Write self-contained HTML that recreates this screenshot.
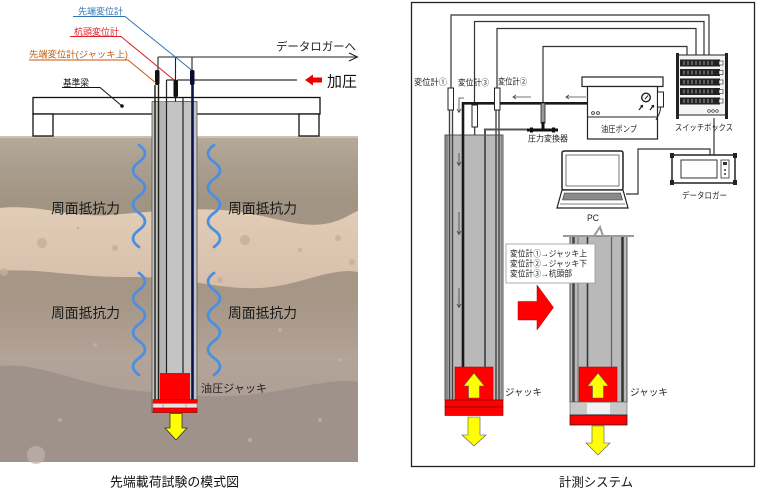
<!DOCTYPE html>
<html><head><meta charset="utf-8">
<style>
html,body{margin:0;padding:0;background:#fff;}
svg{display:block;}
text{font-family:"Liberation Sans","Noto Sans CJK JP",sans-serif;}
</style></head>
<body>
<svg width="760" height="496" viewBox="0 0 760 496" xmlns="http://www.w3.org/2000/svg">
<defs>
<linearGradient id="soil" x1="0" y1="0" x2="0" y2="1">
<stop offset="0" stop-color="#b6ab9b"/>
<stop offset="0.08" stop-color="#ab9f8f"/>
<stop offset="0.2" stop-color="#a29483"/>
<stop offset="0.5" stop-color="#a69686"/>
<stop offset="0.68" stop-color="#b3a398"/>
<stop offset="1" stop-color="#a89b93"/>
</linearGradient>
<linearGradient id="beige" x1="0" y1="0" x2="0" y2="1">
<stop offset="0" stop-color="#e2cdb7"/>
<stop offset="1" stop-color="#d6beab"/>
</linearGradient>
</defs>
<rect width="760" height="496" fill="#fff"/>

<!-- ============ LEFT DIAGRAM ============ -->
<!-- soil -->
<rect x="0" y="136" width="358" height="326" fill="url(#soil)"/>
<rect x="0" y="136" width="358" height="2" fill="#cbc2b2"/>
<path d="M0,208 C40,204 70,218 110,215 C150,212 200,206 240,212 C280,218 300,229 330,223 C345,219 352,213 358,211 L358,272 C330,267 300,286 260,288 C220,290 180,276 130,277 C80,278 40,268 0,271 Z" fill="url(#beige)"/>
<path d="M0,366 C40,362 80,385 130,390 C180,395 220,400 270,392 C310,386 335,378 358,382 L358,462 L0,462 Z" fill="#9f928b"/>
<g fill="#c7ad9a" opacity="0.8">
<circle cx="42" cy="243" r="5"/><circle cx="115" cy="248" r="3"/><circle cx="4" cy="272" r="4"/><circle cx="78" cy="228" r="1.5"/>
<circle cx="245" cy="240" r="5"/><circle cx="300" cy="250" r="2"/><circle cx="338" cy="238" r="3"/><circle cx="220" cy="280" r="3"/><circle cx="352" cy="262" r="3"/>
</g>
<g fill="#c1b4ab" opacity="0.7">
<circle cx="36" cy="455" r="9"/><circle cx="60" cy="420" r="2"/><circle cx="95" cy="345" r="2"/><circle cx="280" cy="330" r="2"/><circle cx="320" cy="420" r="2"/><circle cx="250" cy="440" r="2"/><circle cx="340" cy="360" r="2"/>
</g>

<!-- beam -->
<rect x="33" y="97.5" width="287" height="16.5" fill="#fff" stroke="#111" stroke-width="1.3"/>
<rect x="33" y="114" width="20" height="22" fill="#fff" stroke="#111" stroke-width="1.3"/>
<rect x="299" y="114" width="20" height="22" fill="#fff" stroke="#111" stroke-width="1.3"/>

<!-- pile -->
<rect x="152" y="101.5" width="45" height="311" fill="#c4c4c4" stroke="#555" stroke-width="0.8"/>
<rect x="159" y="101.5" width="7" height="300" fill="#b5b5b5"/>
<line x1="155" y1="85" x2="155" y2="400" stroke="#1c1c14" stroke-width="1.4"/>
<line x1="158.5" y1="85" x2="158.5" y2="400" stroke="#1c1c14" stroke-width="1.4"/>
<line x1="166.5" y1="80" x2="166.5" y2="373" stroke="#222" stroke-width="1.2"/>
<line x1="183" y1="98" x2="183" y2="373" stroke="#222" stroke-width="1.2"/>
<line x1="192.5" y1="85" x2="192.5" y2="400" stroke="#0b1450" stroke-width="2.6"/>
<line x1="166.5" y1="80" x2="175" y2="80" stroke="#222" stroke-width="1.2"/>
<line x1="175.5" y1="97" x2="175.5" y2="101.5" stroke="#222" stroke-width="1.2"/>

<!-- top wiring -->
<line x1="158" y1="57" x2="357" y2="57" stroke="#222" stroke-width="1.1"/>
<polyline points="349,53 357.5,57 349,61" fill="none" stroke="#222" stroke-width="1.1"/>
<line x1="158" y1="57" x2="158" y2="70" stroke="#222" stroke-width="1.1"/>
<line x1="175.5" y1="57" x2="175.5" y2="80" stroke="#222" stroke-width="1.1"/>
<line x1="192" y1="57" x2="192" y2="70" stroke="#222" stroke-width="1.1"/>
<line x1="177" y1="80" x2="297" y2="80" stroke="#333" stroke-width="1.2"/>

<!-- gauges -->
<rect x="155" y="70" width="4.5" height="15" rx="1.5" fill="#111"/>
<rect x="173.5" y="80" width="4.5" height="17" rx="1.5" fill="#111"/>
<rect x="190" y="70" width="4.5" height="15" rx="1.5" fill="#0a0a30"/>

<!-- leader labels -->
<text x="78" y="14.5" font-size="9" fill="#2f75b5" textLength="45" lengthAdjust="spacingAndGlyphs">先端変位計</text>
<polyline points="73,16.5 125,16.5 191.5,70" fill="none" stroke="#2f75b5" stroke-width="1"/>
<text x="74" y="35" font-size="9" fill="#e0202a" textLength="45" lengthAdjust="spacingAndGlyphs">杭頭変位計</text>
<polyline points="70,36.5 121,36.5 174,80" fill="none" stroke="#e0202a" stroke-width="1"/>
<text x="29" y="57.5" font-size="9" fill="#c55a11" textLength="99" lengthAdjust="spacingAndGlyphs">先端変位計(ジャッキ上)</text>
<polyline points="29,60 128,60 156,83" fill="none" stroke="#c55a11" stroke-width="1"/>
<text x="63" y="86" font-size="9" fill="#111" textLength="26" lengthAdjust="spacingAndGlyphs">基準梁</text>
<polyline points="62,87.5 100,87.5 122,106" fill="none" stroke="#111" stroke-width="1"/>
<circle cx="122" cy="106" r="1.8" fill="#111"/>

<text x="276" y="50.5" font-size="11.5" fill="#222" textLength="80" lengthAdjust="spacingAndGlyphs">データロガーへ</text>
<polygon points="305,80 313,74.5 313,77.5 322,77.5 322,82.5 313,82.5 313,85.5" fill="#e00"/>
<text x="327" y="86.5" font-size="15" fill="#111" textLength="30" lengthAdjust="spacingAndGlyphs">加圧</text>

<!-- jack -->
<rect x="160" y="373" width="30" height="27" fill="#f00"/>
<rect x="153" y="399.5" width="44" height="4" fill="#f00" stroke="#900" stroke-width="0.5"/>
<rect x="153" y="403.5" width="44" height="4.5" fill="#e4e4e4" stroke="#888" stroke-width="0.6"/>
<line x1="163" y1="403.5" x2="163" y2="408" stroke="#888" stroke-width="0.6"/>
<line x1="186" y1="403.5" x2="186" y2="408" stroke="#888" stroke-width="0.6"/>
<rect x="153" y="408" width="44" height="4.5" fill="#f00" stroke="#900" stroke-width="0.5"/>
<polygon points="170,413.5 182,413.5 182,428 187,428 176,440 165,428 170,428" fill="#ff0" stroke="#333" stroke-width="0.8"/>
<text x="201" y="392" font-size="11" fill="#222" textLength="66" lengthAdjust="spacingAndGlyphs">油圧ジャッキ</text>

<!-- waves -->
<g fill="none" stroke="#4a90e2" stroke-width="2.8" stroke-linecap="round">
<path d="M139,145 q12,8.5 0,17 t0,17 t0,17 t0,17 t0,17 t0,17"/>
<path d="M139,273 q12,8.5 0,17 t0,17 t0,17 t0,17 t0,17 t0,17"/>
<path d="M214,145 q-12,8.5 0,17 t0,17 t0,17 t0,17 t0,17 t0,17"/>
<path d="M214,273 q-12,8.5 0,17 t0,17 t0,17 t0,17 t0,17 t0,17"/>
</g>
<g font-size="14" fill="#1a1a1a">
<text x="51" y="213.5" textLength="69" lengthAdjust="spacingAndGlyphs">周面抵抗力</text>
<text x="228" y="213.5" textLength="69" lengthAdjust="spacingAndGlyphs">周面抵抗力</text>
<text x="51" y="318" textLength="69" lengthAdjust="spacingAndGlyphs">周面抵抗力</text>
<text x="228" y="318" textLength="69" lengthAdjust="spacingAndGlyphs">周面抵抗力</text>
</g>
<text x="110" y="486.5" font-size="13" fill="#111" textLength="129" lengthAdjust="spacingAndGlyphs">先端載荷試験の模式図</text>

<!-- ============ RIGHT DIAGRAM ============ -->
<rect x="411.5" y="2.5" width="343" height="464" fill="none" stroke="#222" stroke-width="1.3"/>

<!-- wires -->
<g fill="none" stroke="#333" stroke-width="1.2">
<path d="M451,88 V15 H709 V55"/>
<path d="M474.5,105 V21.5 H704 V55"/>
<path d="M497,88 V28.5 H696 V55"/>
<path d="M543,103 V46.5 H687 V55"/>
<path d="M626,194 H638 V149 H710 V155"/>
<path d="M714,118 V155"/>
</g>

<!-- pile 1 -->
<rect x="445" y="135" width="58" height="265" fill="#b9b9b9" stroke="#555" stroke-width="1"/>
<rect x="445.5" y="135.5" width="2.5" height="264" fill="#8a8a8a"/>
<rect x="500.5" y="135.5" width="2.5" height="264" fill="#8a8a8a"/>
<line x1="449.5" y1="110" x2="449.5" y2="400" stroke="#444" stroke-width="1.4"/>
<line x1="452.5" y1="110" x2="452.5" y2="400" stroke="#444" stroke-width="1.4"/>
<line x1="496" y1="110" x2="496" y2="400" stroke="#444" stroke-width="1.4"/>
<line x1="499" y1="110" x2="499" y2="400" stroke="#444" stroke-width="1.4"/>
<line x1="474.7" y1="127" x2="474.7" y2="135" stroke="#333" stroke-width="1.2"/>
<path d="M598,113 V103.3 H463 V367" fill="none" stroke="#1a1a1a" stroke-width="2.6"/>
<path d="M527,129.5 H485 V367" fill="none" stroke="#555" stroke-width="2"/>
<!-- flow arrows -->
<g stroke="#444" stroke-width="0.8" fill="none">
<path d="M531,97 H513 M516,95 L513,97 L516,99"/>
<path d="M586,97 H566 M569,95 L566,97 L569,99"/>
<path d="M464,98 H459 V112 M457,109 L459,112.5 L461,109"/>
<path d="M459,153 V165 M457,162 L459,165.5 L461,162"/>
<path d="M459,212 V234 M457,231 L459,234.5 L461,231"/>
<path d="M459,288 V307 M457,304 L459,307.5 L461,304"/>
</g>
<!-- gauges -->
<rect x="448" y="88" width="5.5" height="22" fill="#fff" stroke="#222" stroke-width="1"/>
<rect x="472" y="105" width="5.5" height="22" fill="#fff" stroke="#222" stroke-width="1"/>
<rect x="494.5" y="88" width="5.5" height="22" fill="#fff" stroke="#222" stroke-width="1"/>
<g font-size="8.5" fill="#222">
<text x="414" y="85" textLength="33" lengthAdjust="spacingAndGlyphs">変位計①</text>
<text x="458" y="85.5" textLength="31" lengthAdjust="spacingAndGlyphs">変位計③</text>
<text x="498" y="84.5" textLength="29" lengthAdjust="spacingAndGlyphs">変位計②</text>
<text x="528" y="141.5" textLength="40" lengthAdjust="spacingAndGlyphs">圧力変換器</text>
</g>
<!-- pressure transducer -->
<rect x="541" y="103" width="4" height="20" fill="#999" stroke="#222" stroke-width="0.8"/>
<line x1="543" y1="122" x2="543" y2="130" stroke="#111" stroke-width="3"/>
<line x1="527" y1="130" x2="558" y2="130" stroke="#111" stroke-width="3"/>
<rect x="530" y="127.5" width="3" height="5" fill="#111"/>
<rect x="552" y="127.5" width="3" height="5" fill="#111"/>

<!-- jack 1 -->
<rect x="455" y="367" width="38" height="33" fill="#f00" stroke="#a00" stroke-width="0.5"/>
<polygon points="474,373 484.5,386 479.5,386 479.5,398 468.5,398 468.5,386 463.5,386" fill="#ff0" stroke="#555" stroke-width="0.6"/>
<rect x="445" y="400" width="58" height="7" fill="#f00" stroke="#700" stroke-width="0.6"/>
<rect x="445" y="407" width="58" height="8.5" fill="#f00" stroke="#700" stroke-width="0.6"/>
<polygon points="468,417 480,417 480,435 486,435 474,446 462,435 468,435" fill="#ff0" stroke="#555" stroke-width="0.6"/>
<text x="505" y="395.5" font-size="9.5" fill="#222" textLength="37" lengthAdjust="spacingAndGlyphs">ジャッキ</text>

<!-- pile 2 -->
<rect x="570" y="236" width="57" height="166" fill="#b9b9b9" stroke="#555" stroke-width="1"/>
<line x1="573.5" y1="236" x2="573.5" y2="402" stroke="#444" stroke-width="2.5"/>
<line x1="578" y1="236" x2="578" y2="402" stroke="#777" stroke-width="1"/>
<line x1="587.5" y1="236" x2="587.5" y2="367" stroke="#333" stroke-width="1.5"/>
<line x1="611.5" y1="236" x2="611.5" y2="367" stroke="#666" stroke-width="1.3"/>
<line x1="622.5" y1="236" x2="622.5" y2="402" stroke="#333" stroke-width="2.5"/>
<polyline points="563,236 594,236 600,227 603,236 634,236" fill="none" stroke="#9a9a9a" stroke-width="2"/>
<rect x="579" y="367" width="38" height="35" fill="#f00" stroke="#a00" stroke-width="0.5"/>
<polygon points="598,373 608.5,386 603.5,386 603.5,398 592.5,398 592.5,386 587.5,386" fill="#ff0" stroke="#555" stroke-width="0.6"/>
<rect x="570" y="402" width="57" height="13" fill="#c8c8c8" stroke="#666" stroke-width="0.6"/>
<rect x="587" y="403" width="23" height="11" fill="#f2f2f2"/>
<rect x="570" y="415" width="57" height="10" fill="#f00" stroke="#222" stroke-width="0.8"/>
<polygon points="592,426 604,426 604,443 610,443 598,455 586,443 592,443" fill="#ff0" stroke="#555" stroke-width="0.6"/>
<text x="630" y="395.5" font-size="9.5" fill="#222" textLength="38" lengthAdjust="spacingAndGlyphs">ジャッキ</text>

<!-- legend box -->
<rect x="506" y="244" width="89" height="39" fill="#fff" stroke="#999" stroke-width="0.8"/>
<g font-size="8.5" fill="#222">
<text x="510" y="256.5" textLength="77" lengthAdjust="spacingAndGlyphs">変位計①→ジャッキ上</text>
<text x="510" y="266.5" textLength="77" lengthAdjust="spacingAndGlyphs">変位計②→ジャッキ下</text>
<text x="510" y="276.5" textLength="62" lengthAdjust="spacingAndGlyphs">変位計③→杭頭部</text>
</g>
<!-- red block arrow -->
<polygon points="518,301.5 537,301.5 537,285 553.5,307.5 537,330 537,320 518,320" fill="#f00" stroke="#a00" stroke-width="0.5"/>

<!-- pump -->
<rect x="582" y="77" width="81" height="9.5" fill="#fff" stroke="#222" stroke-width="1.2"/>
<rect x="587.5" y="86.5" width="70" height="52.5" fill="#fff" stroke="#222" stroke-width="1.2"/>
<line x1="587.5" y1="117" x2="657.5" y2="117" stroke="#222" stroke-width="1.1"/>
<circle cx="646" cy="97.5" r="4.3" fill="#fff" stroke="#222" stroke-width="1.4"/>
<line x1="645" y1="99" x2="648" y2="95.5" stroke="#222" stroke-width="1"/>
<path d="M639,110 L642,106 M640.5,106 L642.5,105.5 L642.5,107.5" stroke="#222" stroke-width="1.2" fill="none"/>
<path d="M650,110 L653,106 M651.5,106 L653.5,105.5 L653.5,107.5" stroke="#222" stroke-width="1.2" fill="none"/>
<rect x="657.5" y="92" width="6" height="15" fill="#fff" stroke="#222" stroke-width="1"/>
<path d="M660.5,107 C660.5,113 658,116 656,120" fill="none" stroke="#222" stroke-width="1"/>
<circle cx="593" cy="113" r="1.4" fill="none" stroke="#222" stroke-width="0.8"/>
<circle cx="598" cy="113" r="1.4" fill="none" stroke="#222" stroke-width="0.8"/>
<text x="601" y="132" font-size="8.5" fill="#222" textLength="36" lengthAdjust="spacingAndGlyphs">油圧ポンプ</text>

<!-- switch box -->
<rect x="677" y="55" width="50" height="60" fill="#f4f4f4" stroke="#222" stroke-width="1"/>
<g fill="#222">
<rect x="680" y="59.5" width="40" height="7"/>
<rect x="680" y="69" width="40" height="7"/>
<rect x="680" y="78.5" width="40" height="7"/>
<rect x="680" y="88" width="40" height="7"/>
<rect x="680" y="97.5" width="40" height="7"/>
<rect x="676" y="53" width="3" height="66"/>
<rect x="725" y="53" width="3" height="66"/>
</g>
<g stroke="#ccc" stroke-width="0.7">
<path d="M684,61 v4 M688,61 v4 M692,61 v4 M696,61 v4 M700,61 v4 M704,61 v4 M708,61 v4 M712,61 v4"/>
<path d="M684,70.5 v4 M688,70.5 v4 M692,70.5 v4 M696,70.5 v4 M700,70.5 v4 M704,70.5 v4 M708,70.5 v4 M712,70.5 v4"/>
<path d="M684,80 v4 M688,80 v4 M692,80 v4 M696,80 v4 M700,80 v4 M704,80 v4 M708,80 v4 M712,80 v4"/>
<path d="M684,89.5 v4 M688,89.5 v4 M692,89.5 v4 M696,89.5 v4 M700,89.5 v4 M704,89.5 v4 M708,89.5 v4 M712,89.5 v4"/>
<path d="M684,99 v4 M688,99 v4 M692,99 v4 M696,99 v4 M700,99 v4 M704,99 v4 M708,99 v4 M712,99 v4"/>
</g>
<g fill="#fff" stroke="#222" stroke-width="0.6">
<rect x="719" y="61" width="4" height="4"/><rect x="719" y="70.5" width="4" height="4"/><rect x="719" y="80" width="4" height="4"/><rect x="719" y="89.5" width="4" height="4"/><rect x="719" y="99" width="4" height="4"/>
<circle cx="709" cy="111" r="1.3"/><circle cx="713" cy="111" r="1.3"/><circle cx="717" cy="111" r="1.3"/>
</g>
<text x="675" y="130.5" font-size="8.5" fill="#222" textLength="58" lengthAdjust="spacingAndGlyphs">スイッチボックス</text>

<!-- PC -->
<rect x="562" y="151" width="61" height="39" rx="2" fill="#fff" stroke="#222" stroke-width="1.5"/>
<rect x="566" y="155" width="53" height="31" fill="#fff" stroke="#555" stroke-width="0.8"/>
<polygon points="562,190 623,190 628,208 557,208" fill="#fff" stroke="#222" stroke-width="1.2"/>
<polygon points="564.5,193 620.5,193 622.5,200 562.5,200" fill="#8a8a8a" stroke="#333" stroke-width="0.6"/>
<line x1="560" y1="204" x2="625" y2="204" stroke="#555" stroke-width="0.8"/>
<text x="587" y="221" font-size="9.5" fill="#222" textLength="12" lengthAdjust="spacingAndGlyphs">PC</text>

<!-- data logger -->
<rect x="672" y="155" width="63" height="28" rx="2" fill="#fff" stroke="#222" stroke-width="1.5"/>
<rect x="681" y="160" width="36" height="18" fill="#fff" stroke="#333" stroke-width="1"/>
<rect x="721" y="160" width="8" height="18" fill="#fff" stroke="#333" stroke-width="0.8"/>
<rect x="723" y="162" width="4" height="3" fill="#333"/>
<circle cx="725" cy="170" r="1" fill="#333"/><circle cx="725" cy="174" r="1" fill="#333"/>
<g fill="#222">
<rect x="670" y="153" width="4" height="5"/><rect x="733" y="153" width="4" height="5"/>
<rect x="670" y="180" width="4" height="5"/><rect x="733" y="180" width="4" height="5"/>
</g>
<text x="682" y="198.5" font-size="8.5" fill="#222" textLength="45" lengthAdjust="spacingAndGlyphs">データロガー</text>

<text x="559" y="486.5" font-size="12.5" fill="#111" textLength="74" lengthAdjust="spacingAndGlyphs">計測システム</text>
</svg>
</body></html>
